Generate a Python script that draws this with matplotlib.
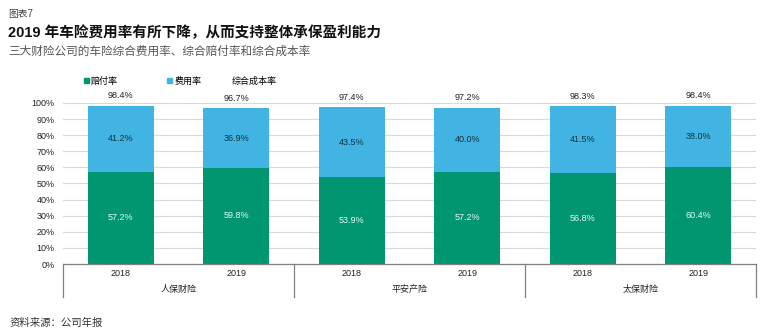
import matplotlib
matplotlib.use("Agg")
import matplotlib.pyplot as plt
import numpy as np
from matplotlib.transforms import blended_transform_factory
from matplotlib.lines import Line2D
from matplotlib.patches import Patch

plt.rcParams['font.family'] = ['Liberation Sans', 'Noto Sans CJK SC', 'DejaVu Sans']

companies = ['人保财险', '平安产险', '太保财险']
years = ['2018', '2019']
claims = [57.2, 59.8, 53.9, 57.2, 56.8, 60.4]
expense = [41.2, 36.9, 43.5, 40.0, 41.5, 38.0]
combined = [98.4, 96.7, 97.4, 97.2, 98.3, 98.4]
yticks = [0, 10, 20, 30, 40, 50, 60, 70, 80, 90, 100]

GREEN = '#009670'
BLUE = '#41B4E3'

W, H = 767, 335
fig = plt.figure(figsize=(W / 100, H / 100), dpi=100)
ax = fig.add_axes([63 / W, 1 - 264 / H, (756 - 63) / W, (264 - 103) / H])

n = len(claims)
x = np.arange(n)
bw = 0.57
b1 = ax.bar(x, claims, bw, color=GREEN, zorder=2, label='赔付率')
b2 = ax.bar(x, expense, bw, bottom=claims, color=BLUE, zorder=2, label='费用率')
ln, = ax.plot(x, combined, linestyle='none', marker=None, label='综合成本率')

for i in range(n):
    ax.text(x[i], claims[i] / 2, f'{claims[i]:.1f}%', ha='center', va='center',
            fontsize=6.5, color='#e8f7f0', zorder=3)
    ax.text(x[i], claims[i] + expense[i] / 2, f'{expense[i]:.1f}%', ha='center',
            va='center', fontsize=6.5, color='#14313f', zorder=3)
    ax.annotate(f'{combined[i]:.1f}%', (x[i], combined[i]), xytext=(0, 7),
                textcoords='offset points', ha='center', va='center',
                fontsize=6.5, color='#222222', annotation_clip=False)

ax.set_xlim(-0.5, n - 0.5)
ax.set_ylim(0, 100)
ax.set_yticks(yticks)
ax.set_yticklabels([f'{v}%' for v in yticks], fontsize=6.5, color='#222222')
ax.tick_params(axis='y', length=0, pad=6)
ax.set_xticks([])
ax.yaxis.grid(True, color='#d9d9d9', linewidth=0.8, zorder=0)
ax.set_axisbelow(True)
for s in ['top', 'right', 'left']:
    ax.spines[s].set_visible(False)
ax.spines['bottom'].set_color('#808080')
ax.spines['bottom'].set_linewidth(0.9)

trans = blended_transform_factory(ax.transData, ax.transAxes)
for b in [-0.5, 1.5, 3.5, 5.5]:
    ax.plot([b, b], [0, -0.205], transform=trans, color='#808080', lw=0.9, clip_on=False)
for i in range(n):
    ax.text(x[i], -0.062, years[i % 2], transform=trans, ha='center', va='center',
            fontsize=6.5, color='#222222')
for g, c in enumerate(companies):
    ax.text(2 * g + 0.5, -0.161, c, transform=trans, ha='center', va='center',
            fontsize=6.5, color='#222222')

leg1 = fig.legend([Patch(color=GREEN), Patch(color=BLUE)], ['赔付率', '费用率'],
                  loc='center left', bbox_to_anchor=(84 / W, 1 - 81 / H), ncol=2,
                  frameon=False, fontsize=6.5, handlelength=0.6, handleheight=0.6,
                  handletextpad=0.2, columnspacing=5.4, borderpad=0, borderaxespad=0)
leg2 = fig.legend([Line2D([], [], color='none')], ['综合成本率'],
                  loc='center left', bbox_to_anchor=(232 / W, 1 - 81 / H),
                  frameon=False, fontsize=6.5, handlelength=0, handletextpad=0,
                  borderpad=0, borderaxespad=0)

fig.text(8 / W, 1 - 14 / H, '图表7', fontsize=7, color='#444444', va='center')
fig.text(8 / W, 1 - 33 / H, '2019 年车险费用率有所下降，从而支持整体承保盈利能力',
         fontsize=10.5, fontweight='bold', color='#111111', va='center')
fig.text(8 / W, 1 - 52 / H, '三大财险公司的车险综合费用率、综合赔付率和综合成本率',
         fontsize=8.4, color='#555555', va='center')
fig.text(10 / W, 1 - 323 / H, '资料来源：公司年报', fontsize=7.5, color='#333333',
         va='center', style='italic')

fig.savefig('out.png', dpi=100)
